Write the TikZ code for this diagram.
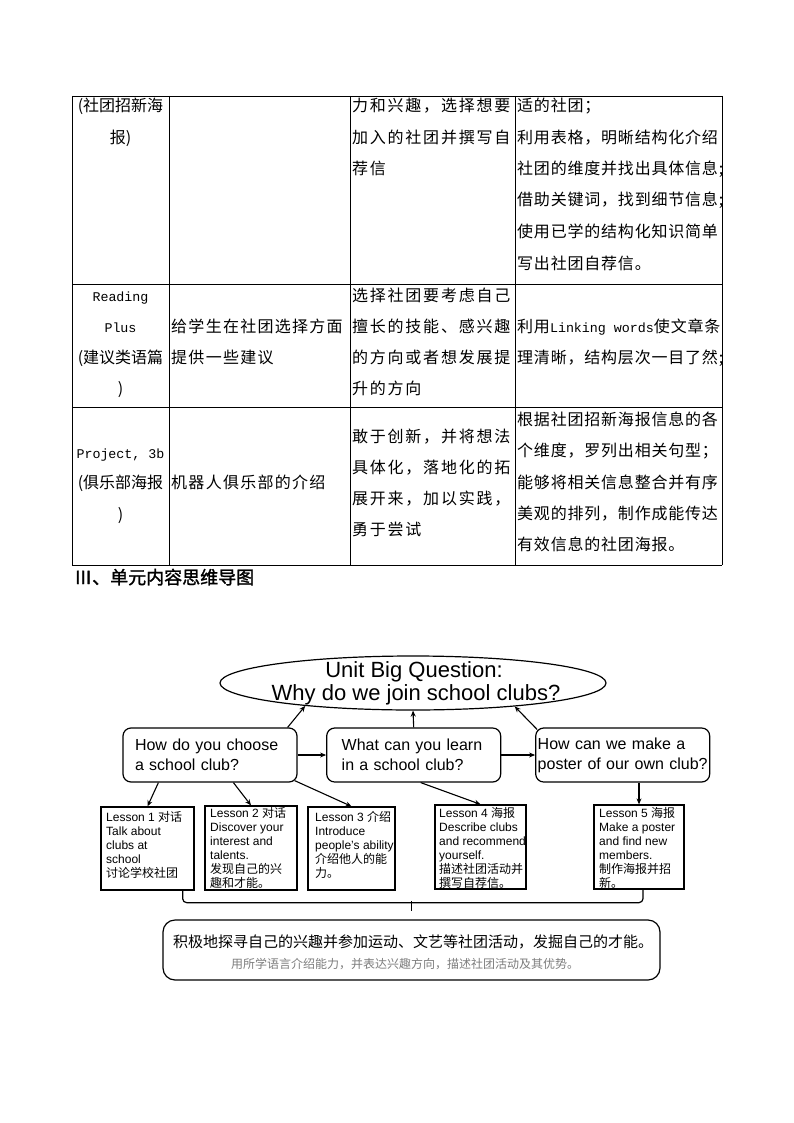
\documentclass[tikz,border=0pt]{standalone}
\usepackage{fontspec}
\setmainfont{Liberation Sans}
\newfontfamily\cjk{Noto Sans CJK SC}[AutoFakeBold=1.5]
\newfontfamily\cjkB{Noto Sans CJK SC}[LetterSpace=8]
\newfontfamily\cjkC{Noto Sans CJK SC}[LetterSpace=11]
\newfontfamily\cjkD{Noto Sans CJK SC}[LetterSpace=5]
\newfontfamily\mono{Liberation Mono}[Scale=0.833]
\usetikzlibrary{shapes.geometric,arrows.meta,calc}
\definecolor{subgray}{RGB}{125,125,125}
\tikzset{
  tl/.style={inner sep=0, anchor=base west, font=\fontsize{16}{16}\selectfont},
  tm/.style={inner sep=0, anchor=base, font=\fontsize{16}{16}\selectfont},
  grid/.style={line width=0.9pt},
  qbox/.style={draw, rounded corners=8, line width=1.2pt, minimum height=54, inner ysep=0, align=left, font=\fontsize{16}{20}\selectfont},
  lbox/.style={draw, line width=1.3pt, inner sep=0},
  ltext/.style={inner sep=0, anchor=north west, align=left, font=\fontsize{12}{14}\selectfont},
  arr/.style={-{Stealth[length=6pt,width=5pt]}, line width=1.1pt},
  conn/.style={line width=1.2pt}
}
\begin{document}
\begin{tikzpicture}[x=1pt,y=-1pt]
\useasboundingbox (0,0) rectangle (794,1123);
\fill[white] (0,0) rectangle (794,1123);
% ---------- table grid ----------
\foreach \yy in {96,284,407,565} \draw[grid] (72,\yy) -- (722,\yy);
\foreach \xx in {72,169,350,515,722} \draw[grid] (\xx,96) -- (\xx,565);
% ---------- row 1 ----------
\node[tm] (r1a1) at (120.5,112) {\cjk (社团招新海};
\node[tm] (r1a2) at (120.5,144) {\cjk 报)};
\node[tl] (r1c1) at (352,112) {\cjkC 力和兴趣，选择想要};
\node[tl] (r1c2) at (352,144) {\cjkC 加入的社团并撰写自};
\node[tl] (r1c3) at (352,175) {\cjkC 荐信};
\node[tl] (r1d1) at (517,112) {\cjkD 适的社团；};
\node[tl] (r1d2) at (517,144) {\cjkD 利用表格，明晰结构化介绍};
\node[tl] (r1d3) at (517,175) {\cjkD 社团的维度并找出具体信息;};
\node[tl] (r1d4) at (517,206) {\cjkD 借助关键词，找到细节信息;};
\node[tl] (r1d5) at (517,237) {\cjkD 使用已学的结构化知识简单};
\node[tl] (r1d6) at (517,269) {\cjkD 写出社团自荐信。};
% ---------- row 2 ----------
\node[tm] (r2a1) at (120.5,301) {\mono Reading};
\node[tm] (r2a2) at (120.5,332) {\mono Plus};
\node[tm] (r2a3) at (120.5,363) {\cjk (建议类语篇};
\node[tm] (r2a4) at (120.5,394) {\cjk )};
\node[tl] (r2b1) at (171,332) {\cjkB 给学生在社团选择方面};
\node[tl] (r2b2) at (171,363) {\cjkB 提供一些建议};
\node[tl] (r2c1) at (352,301) {\cjkC 选择社团要考虑自己};
\node[tl] (r2c2) at (352,332) {\cjkC 擅长的技能、感兴趣};
\node[tl] (r2c3) at (352,363) {\cjkC 的方向或者想发展提};
\node[tl] (r2c4) at (352,394) {\cjkC 升的方向};
\node[tl] (r2d1) at (517,332) {\cjkD 利用{\mono Linking words}使文章条};
\node[tl] (r2d2) at (517,363) {\cjkD 理清晰，结构层次一目了然;};
% ---------- row 3 ----------
\node[tm] (r3a1) at (120.5,458) {\mono Project, 3b};
\node[tm] (r3a2) at (120.5,488) {\cjk (俱乐部海报};
\node[tm] (r3a3) at (120.5,520) {\cjk )};
\node[tl] (r3b1) at (171,488) {\cjkB 机器人俱乐部的介绍};
\node[tl] (r3c1) at (352,442) {\cjkC 敢于创新，并将想法};
\node[tl] (r3c2) at (352,473) {\cjkC 具体化，落地化的拓};
\node[tl] (r3c3) at (352,504) {\cjkC 展开来，加以实践，};
\node[tl] (r3c4) at (352,535) {\cjkC 勇于尝试};
\node[tl] (r3d1) at (517,425) {\cjkD 根据社团招新海报信息的各};
\node[tl] (r3d2) at (517,456) {\cjkD 个维度，罗列出相关句型；};
\node[tl] (r3d3) at (517,488) {\cjkD 能够将相关信息整合并有序};
\node[tl] (r3d4) at (517,519) {\cjkD 美观的排列，制作成能传达};
\node[tl] (r3d5) at (517,550) {\cjkD 有效信息的社团海报。};
% ---------- heading ----------
\node[inner sep=0, anchor=base west, font=\fontsize{18}{18}\selectfont\cjk\bfseries] (head) at (74,584) {Ⅲ、单元内容思维导图};
% ---------- mind map ----------
\node[draw, ellipse, line width=1.2pt, minimum width=386, minimum height=54, inner sep=0] (big) at (413,683) {};
\node[inner sep=0, anchor=base, font=\fontsize{22}{22}\selectfont] (bq1) at (414,677) {Unit Big Question:};
\node[inner sep=0, anchor=base, font=\fontsize{22}{22}\selectfont] (bq2) at (416,700) {Why do we join school clubs?};
\node[qbox, text width=150, inner xsep=12] (q1) at (210,755) {How do you choose\\a school club?};
\node[qbox, text width=144, inner xsep=15] (q2) at (413.7,755) {What can you learn\\in a school club?};
\node[qbox, text width=170, inner xsep=2] (q3) at (622.7,755) {How can we make a\\poster of our own club?};
% lesson texts
\node[ltext] (t1) at (106,811.6) {Lesson 1 {\cjk 对话}\\Talk about\\clubs at\\school\\{\cjk 讨论学校社团}};
\node[ltext] (t2) at (210,807.6) {Lesson 2 {\cjk 对话}\\Discover your\\interest and\\talents.\\{\cjk 发现自己的兴}\\{\cjk 趣和才能。}};
\node[ltext] (t3) at (315,811.6) {Lesson 3 {\cjk 介绍}\\Introduce\\people’s ability\\{\cjk 介绍他人的能}\\{\cjk 力。}};
\node[ltext] (t4) at (439,807.6) {Lesson 4 {\cjk 海报}\\Describe clubs\\and recommend\\yourself.\\{\cjk 描述社团活动并}\\{\cjk 撰写自荐信。}};
\node[ltext] (t5) at (599,807.6) {Lesson 5 {\cjk 海报}\\Make a poster\\and find new\\members.\\{\cjk 制作海报并招}\\{\cjk 新。}};
% lesson boxes
\node[lbox, minimum width=93, minimum height=83] (l1) at (147.5,848.5) {};
\node[lbox, minimum width=92, minimum height=84] (l2) at (251,848) {};
\node[lbox, minimum width=87, minimum height=83] (l3) at (351.5,848.5) {};
\node[lbox, minimum width=91, minimum height=84] (l4) at (480.5,847) {};
\node[lbox, minimum width=90, minimum height=84] (l5) at (639,847) {};
% bottom box
\node[draw, rounded corners=12, line width=1.2pt, minimum width=497, minimum height=60, inner sep=0] (bot) at (411.5,950) {};
\node[inner sep=0, anchor=base, font=\fontsize{15}{15}\selectfont\cjk] (bt1) at (413,947) {积极地探寻自己的兴趣并参加运动、文艺等社团活动，发掘自己的才能。};
\node[inner sep=0, anchor=base, font=\fontsize{12}{12}\selectfont\cjk, text=subgray] (bt2) at (405,968) {用所学语言介绍能力，并表达兴趣方向，描述社团活动及其优势。};
% arrows to the big question
\draw[arr] ($(q1.north east)+(-10,0)$) -- (big.192);
\draw[arr] (q2.north) -- (big.south);
\draw[arr] ($(q3.north west)+(2,2)$) -- (big.-13);
\draw[arr] (q1.east) -- (q2.west);
\draw[arr] (q2.east) -- (q3.west);
% arrows to lessons
\draw[arr] ($(q1.south west)+(36,0)$) -- (l1.north);
\draw[arr] ($(q1.south west)+(111,0)$) -- (l2.north);
\draw[arr] ($(q1.south east)+(-3,-2)$) -- (l3.north);
\draw[arr] ($(q2.south)+(7,0)$) -- (l4.north);
\draw[arr] (l5.north |- q3.south) -- (l5.north);
% brace connector
\draw[conn, rounded corners=4] ($(l1.south east)+(-12,0)$) -- ($(l1.south east)+(-12,12)$) -- ($(l5.south)+(4,13)$) -- ($(l5.south)+(4,0)$);
\draw[conn] ($(bot.north)+(0,-18)$) -- ($(bot.north)+(0,-8)$);
\end{tikzpicture}
\end{document}
